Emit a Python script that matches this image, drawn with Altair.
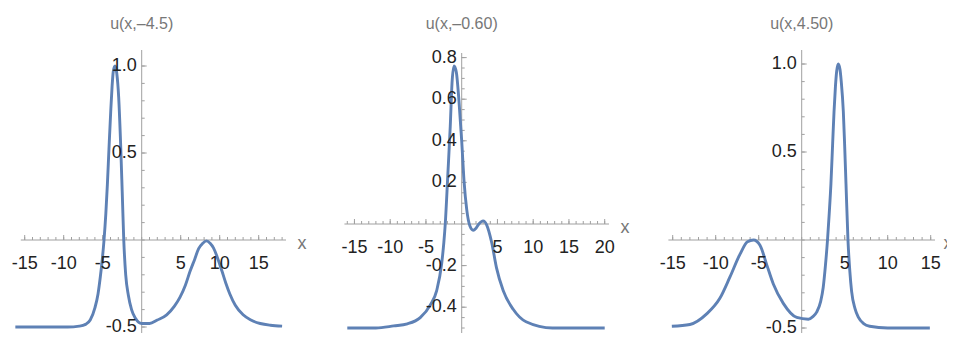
import altair as alt
import pandas as pd

# ---------------- data ----------------
# Panel 1: u(x,-4.5)
x1 = [-16.2, -12, -9.5, -8, -7.2, -6.6, -6.0, -5.6, -5.3, -5.05, -4.83, -4.6, -4.4, -4.2,
      -3.97, -3.8, -3.64, -3.42, -3.2, -2.95, -2.7, -2.5, -2.3, -2.05, -1.7, -1.3, -0.8,
      0, 1, 2, 3.2, 4.2, 4.9, 5.6, 6.2, 6.8, 7.3, 7.8, 8.3, 8.8, 9.2, 9.7, 10.3, 10.8,
      11.3, 12, 13, 14, 15.2, 16.5, 18]
y1 = [-0.5, -0.5, -0.5, -0.495, -0.485, -0.46, -0.39, -0.31, -0.21, -0.11, 0.0, 0.15, 0.32, 0.52,
      0.74, 0.88, 0.97, 1.0, 0.96, 0.82, 0.55, 0.28, 0.0, -0.2, -0.32, -0.40, -0.45,
      -0.48, -0.48, -0.46, -0.43, -0.38, -0.33, -0.26, -0.18, -0.11, -0.05, -0.02, -0.005, -0.02,
      -0.045, -0.1, -0.18, -0.25, -0.31, -0.375, -0.43, -0.46, -0.48, -0.49, -0.495]

# Panel 2: u(x,-0.60)
x2 = [-16, -12, -9.5, -7.6, -5.8, -4.4, -3.5, -2.8, -2.5, -2.3, -1.95, -1.6, -1.35, -1.07,
      -0.75, -0.4, 0, 0.32, 0.7, 1.15, 1.6, 2.0, 2.4, 3.0, 3.5, 4.2, 4.86, 5.8, 7.2, 9.0,
      12.7, 20]
y2 = [-0.5, -0.5, -0.49, -0.48, -0.45, -0.39, -0.32, -0.19, -0.09, 0.0, 0.23, 0.47, 0.68, 0.76,
      0.73, 0.6, 0.40, 0.21, 0.07, -0.01, -0.03, -0.02, 0.0, 0.015, -0.005, -0.09, -0.21, -0.32,
      -0.41, -0.47, -0.5, -0.5]

# Panel 3: u(x,4.50)
x3 = [-15.1, -13, -11.05, -9.5, -8.34, -7.17, -6.3, -5.6, -4.85, -4.07, -3.3, -2.14, -0.58,
      0.77, 1.3, 1.74, 2.2, 2.5, 2.75, 3.0, 3.2, 3.4, 3.6, 3.76, 3.92, 4.07, 4.26, 4.45, 4.6,
      4.84, 5.0, 5.15, 5.38, 5.6, 5.8, 6.2, 6.6, 7.2, 7.9, 10, 14.9]
y3 = [-0.49, -0.48, -0.42, -0.33, -0.21, -0.08, -0.01, 0.0, -0.03, -0.14, -0.25, -0.36, -0.44,
      -0.45, -0.435, -0.41, -0.35, -0.27, -0.15, 0.0, 0.15, 0.32, 0.55, 0.73, 0.87, 0.96, 1.0,
      0.97, 0.9, 0.73, 0.53, 0.32, 0.0, -0.18, -0.29, -0.39, -0.44, -0.475, -0.49, -0.5, -0.5]

titles = ["u(x,\u20134.5)", "u(x,\u20130.60)", "u(x,4.50)"]

xticks1 = [-15, -10, -5, 5, 10, 15]
xticks2 = [-15, -10, -5, 5, 10, 15, 20]
xticks3 = [-15, -10, -5, 5, 10, 15]
yticks1 = [-0.5, 0.5, 1.0]
yticks2 = [-0.4, -0.2, 0.2, 0.4, 0.6, 0.8]
yticks3 = [-0.5, 0.5, 1.0]
ylabels1 = ["-0.5", "0.5", "1.0"]
ylabels2 = ["-0.4", "-0.2", "0.2", "0.4", "0.6", "0.8"]
ylabels3 = ["-0.5", "0.5", "1.0"]

# ---------------- styling ----------------
BLUE = "#5E81B5"
AXIS = "#a0a0a0"
LABEL = "#222222"
TITLE = "#777777"
FONT = "Liberation Sans, Arial"
M = 8  # page margin


def panel(xs, ys, title, xt, yt, ylab, xminor, yminor, g):
    x0, xppu, y0, yppu = g["x0"], g["xppu"], g["y0"], g["yppu"]
    xa, xb = g["xdom"]
    ya, yb = g["ydom"]
    sx = alt.Scale(domain=[xa, xb], range=[x0 - M + xa * xppu, x0 - M + xb * xppu],
                   nice=False, zero=False)
    sy = alt.Scale(domain=[ya, yb], range=[y0 - M - ya * yppu, y0 - M - yb * yppu],
                   nice=False, zero=False)
    one = pd.DataFrame({"a": [0]})

    curve = alt.Chart(pd.DataFrame({"x": xs, "y": ys})).mark_line(
        color=BLUE, strokeWidth=2.9, interpolate="monotone"
    ).encode(
        x=alt.X("x:Q", scale=sx, axis=None),
        y=alt.Y("y:Q", scale=sy, axis=None),
    )

    xaxis = alt.Chart(one).mark_rule(color=AXIS, strokeWidth=1).encode(
        x=alt.X(datum=g["xline"][0], type="quantitative", scale=sx, axis=None),
        x2=alt.X2(datum=g["xline"][1]),
        y=alt.Y(datum=0, type="quantitative", scale=sy, axis=None),
    )
    ytop = (y0 - g["ytop_px"]) / yppu
    ybot = (y0 - 341) / yppu
    yaxis = alt.Chart(one).mark_rule(color=AXIS, strokeWidth=1).encode(
        x=alt.X(datum=0, type="quantitative", scale=sx, axis=None),
        y=alt.Y(datum=ytop, type="quantitative", scale=sy, axis=None),
        y2=alt.Y2(datum=ybot),
    )

    def xticks(vals, length):
        return alt.Chart(pd.DataFrame({"v": vals})).mark_rule(
            color=AXIS, strokeWidth=1, y2Offset=-length
        ).encode(
            x=alt.X("v:Q", scale=sx, axis=None),
            y=alt.Y(datum=0, type="quantitative", scale=sy, axis=None),
            y2=alt.Y2(datum=0),
        )

    def yticks(vals, length):
        return alt.Chart(pd.DataFrame({"v": vals})).mark_rule(
            color=AXIS, strokeWidth=1, x2Offset=length
        ).encode(
            y=alt.Y("v:Q", scale=sy, axis=None),
            x=alt.X(datum=0, type="quantitative", scale=sx, axis=None),
            x2=alt.X2(datum=0),
        )

    xlab = alt.Chart(pd.DataFrame({"v": xt, "t": [str(v) for v in xt]})).mark_text(
        font=FONT, fontSize=18, color=LABEL, dy=24, baseline="middle", align="center"
    ).encode(
        x=alt.X("v:Q", scale=sx, axis=None),
        y=alt.Y(datum=0, type="quantitative", scale=sy, axis=None),
        text="t:N",
    )
    ylabt = alt.Chart(pd.DataFrame({"v": yt, "t": ylab})).mark_text(
        font=FONT, fontSize=18, color=LABEL, dx=-5, baseline="middle", align="right"
    ).encode(
        y=alt.Y("v:Q", scale=sy, axis=None),
        x=alt.X(datum=0, type="quantitative", scale=sx, axis=None),
        text="t:N",
    )
    ttl = alt.Chart(one).mark_text(
        font=FONT, fontSize=16, color=TITLE, baseline="middle", align="center", text=title
    ).encode(
        x=alt.X(datum=0, type="quantitative", scale=sx, axis=None),
        y=alt.Y(datum=(y0 - 24) / yppu, type="quantitative", scale=sy, axis=None),
    )
    xname = alt.Chart(one).mark_text(
        font=FONT, fontSize=18, color=TITLE, baseline="middle", align="center",
        dx=g["xname_dx"], dy=4, text="x"
    ).encode(
        x=alt.X(datum=g["xline"][1], type="quantitative", scale=sx, axis=None),
        y=alt.Y(datum=0, type="quantitative", scale=sy, axis=None),
    )
    return alt.layer(
        xaxis, yaxis,
        xticks(xminor, 3), xticks(xt, 5),
        yticks(yminor, 3), yticks(yt, 5),
        curve, xlab, ylabt, ttl, xname,
    )


def frange(a, b, step):
    out, v = [], a
    while v <= b + 1e-9:
        out.append(round(v, 4))
        v += step
    return out


g1 = dict(x0=141.7, xppu=7.8, y0=240, yppu=174, xdom=[-17, 20], ydom=[-0.6, 1.35],
          xline=[-15.5, 18.5], ytop_px=50, xname_dx=16)
g2 = dict(x0=461.7, xppu=7.15, y0=224, yppu=208, xdom=[-17, 22], ydom=[-0.6, 1.1],
          xline=[-16.4, 20.6], ytop_px=53, xname_dx=16)
g3 = dict(x0=801.7, xppu=8.6, y0=240, yppu=176, xdom=[-16, 17], ydom=[-0.6, 1.35],
          xline=[-15.5, 15.5], ytop_px=50, xname_dx=13)

p1 = panel(x1, y1, titles[0], xticks1, yticks1, ylabels1,
           list(range(-15, 19)), frange(-0.5, 1.0, 0.1), g1)
p2 = panel(x2, y2, titles[1], xticks2, yticks2, ylabels2,
           list(range(-16, 21)), frange(-0.5, 0.8, 0.05), g2)
p3 = panel(x3, y3, titles[2], xticks3, yticks3, ylabels3,
           list(range(-15, 16)), frange(-0.5, 1.0, 0.1), g3)

chart = alt.layer(p1, p2, p3).resolve_scale(
    x="independent", y="independent"
).properties(
    width=939, height=325, padding=0, autosize=alt.AutoSizeParams(type="none"),
    background="white",
).configure_view(stroke=None)

chart.save("out.html", embed_options={"renderer": "svg", "actions": False})
